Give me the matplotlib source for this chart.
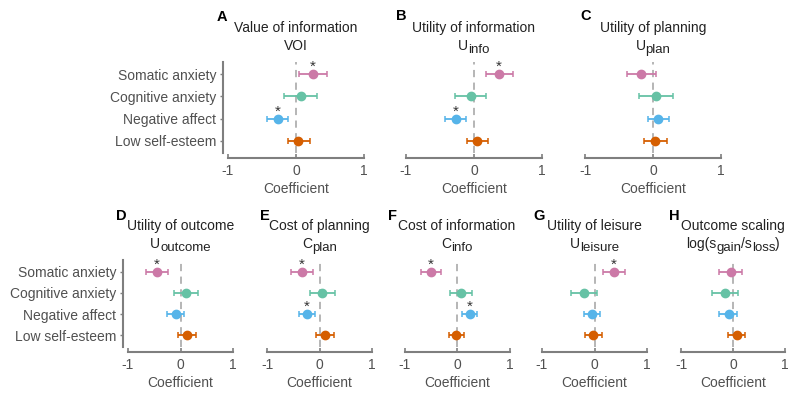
import matplotlib.pyplot as plt

plt.rcParams['font.family'] = ['Liberation Sans', 'DejaVu Sans']

traits = ['Somatic anxiety', 'Cognitive anxiety', 'Negative affect', 'Low self-esteem']
colors = ['#CC79A7', '#66C2A5', '#56B4E9', '#D55E00']

letters = ['A', 'B', 'C', 'D', 'E', 'F', 'G', 'H']
names = ['Value of information', 'Utility of information', 'Utility of planning',
         'Utility of outcome', 'Cost of planning', 'Cost of information',
         'Utility of leisure', 'Outcome scaling']
# second title line as (text, is_subscript) pieces
symbols = [[('VOI', 0)],
           [('U', 0), ('info', 1)],
           [('U', 0), ('plan', 1)],
           [('U', 0), ('outcome', 1)],
           [('C', 0), ('plan', 1)],
           [('C', 0), ('info', 1)],
           [('U', 0), ('leisure', 1)],
           [('log(s', 0), ('gain', 1), ('/s', 0), ('loss', 1), (')', 0)]]

# estimates, lower / upper CI, significance (trait order as above)
est = [[0.25, 0.07, -0.27, 0.03],
       [0.37, -0.05, -0.27, 0.04],
       [-0.17, 0.05, 0.08, 0.03],
       [-0.45, 0.10, -0.09, 0.12],
       [-0.34, 0.05, -0.24, 0.10],
       [-0.50, 0.07, 0.24, -0.02],
       [0.37, -0.20, -0.05, -0.03],
       [-0.04, -0.15, -0.08, 0.07]]
lo = [[0.05, -0.17, -0.42, -0.12],
      [0.18, -0.28, -0.42, -0.11],
      [-0.38, -0.20, -0.08, -0.13],
      [-0.65, -0.13, -0.25, -0.04],
      [-0.54, -0.18, -0.39, -0.06],
      [-0.69, -0.14, 0.10, -0.16],
      [0.17, -0.44, -0.20, -0.19],
      [-0.26, -0.40, -0.26, -0.09]]
hi = [[0.45, 0.31, -0.12, 0.20],
      [0.57, 0.18, -0.12, 0.20],
      [0.04, 0.30, 0.24, 0.20],
      [-0.24, 0.34, 0.07, 0.29],
      [-0.12, 0.29, -0.08, 0.27],
      [-0.31, 0.29, 0.39, 0.13],
      [0.58, 0.05, 0.11, 0.14],
      [0.17, 0.10, 0.08, 0.24]]
sig = [[1, 0, 1, 0], [1, 0, 1, 0], [0, 0, 0, 0], [1, 0, 0, 0],
       [1, 0, 1, 0], [1, 0, 1, 0], [1, 0, 0, 0], [0, 0, 0, 0]]

xticks = [-1, 0, 1]
xticklabels = ['-1', '0', '1']

W, H = 800, 403
# axes boxes in pixels: left, right, top, bottom
boxes = [(228, 364, 62, 153), (406, 542, 62, 153), (585, 721, 62, 153),
         (128, 233, 260, 347), (267, 372, 260, 347), (404.5, 509.5, 260, 347),
         (542, 647, 260, 347), (681, 785, 260, 347)]
letter_pos = [(217, 17), (396, 16), (580, 16), (116, 216), (260, 216),
              (388, 216), (533, 216), (669, 216)]

grey = '#7f7f7f'
txt = '#505050'
dark = '#222222'

fig = plt.figure(figsize=(W / 100, H / 100), dpi=100)
renderer = fig.canvas.get_renderer()


def text_width(s, size):
    t = fig.text(0, 0, s, fontsize=size)
    w = t.get_window_extent(renderer=renderer).width
    t.remove()
    return w


for k in range(8):
    l, r, t, b = boxes[k]
    ax = fig.add_axes([l / W, 1 - b / H, (r - l) / W, (b - t) / H])
    ypos = [3, 2, 1, 0]
    ax.axvline(0, color='#b0b0b0', ls=(0, (4, 3)), lw=1.3, zorder=1)
    for i in range(4):
        ax.errorbar(est[k][i], ypos[i],
                    xerr=[[est[k][i] - lo[k][i]], [hi[k][i] - est[k][i]]],
                    fmt='o', color=colors[i], ms=6, elinewidth=1.3,
                    capsize=2, capthick=1.1, zorder=3, clip_on=False)
        if sig[k][i]:
            ax.annotate('*', (est[k][i], ypos[i]), xytext=(0, 0),
                        textcoords='offset points', ha='center', va='bottom',
                        fontsize=11, color='#333333')
    ax.set_xlim(-1, 1)
    ax.set_ylim(-0.55, 3.55)
    for s in ['top', 'right']:
        ax.spines[s].set_visible(False)
    ax.spines['bottom'].set_position(('outward', 3.6))
    ax.spines['left'].set_position(('outward', 3.6))
    ax.spines['bottom'].set_bounds(-1, 1)
    for s in ['bottom', 'left']:
        ax.spines[s].set_color(grey)
        ax.spines[s].set_linewidth(1.5)
    ax.set_xticks(xticks)
    ax.set_xticklabels(xticklabels)
    ax.tick_params(axis='x', direction='in', length=3, width=1.2, color=grey,
                   labelsize=10, labelcolor=txt, pad=4)
    ax.set_xlabel('Coefficient', fontsize=10, color=txt, labelpad=3)
    ax.set_yticks(ypos)
    if k in (0, 3):
        ax.set_yticklabels(traits)
        ax.tick_params(axis='y', length=2, width=1, color=grey, labelsize=10,
                       labelcolor=txt, pad=3)
    else:
        ax.spines['left'].set_visible(False)
        ax.tick_params(axis='y', length=0, labelleft=False)
    ax.annotate(names[k], (0.5, 1), xycoords='axes fraction', xytext=(0, 21.6),
                textcoords='offset points', ha='center', va='baseline',
                fontsize=10, color=dark)
    # second title line with large subscripts
    sizes = [9.5 if sub else 10 for _, sub in symbols[k]]
    widths = [text_width(s, sz) for (s, _), sz in zip(symbols[k], sizes)]
    x0 = -sum(widths) / 2
    for (s, sub), sz, w in zip(symbols[k], sizes, widths):
        ax.annotate(s, (0.5, 1), xycoords='axes fraction',
                    xytext=(x0 * 0.72, 8.6 - (2.4 if sub else 0)),
                    textcoords='offset points', ha='left', va='baseline',
                    fontsize=sz, color=dark)
        x0 += w
    lx, ly = letter_pos[k]
    fig.text(lx / W, 1 - ly / H, letters[k], fontsize=10.5, fontweight='bold',
             ha='left', va='center', color='black')

fig.savefig('out.png', dpi=100)
